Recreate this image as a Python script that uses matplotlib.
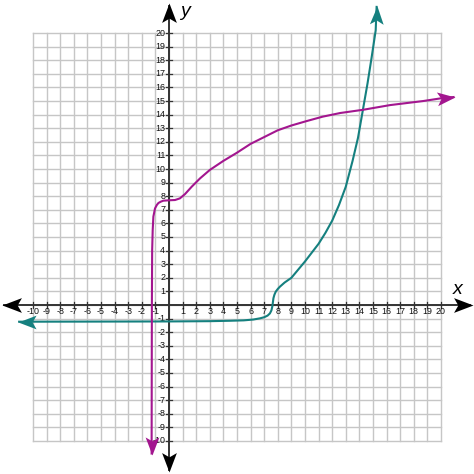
import matplotlib.pyplot as plt
import numpy as np
from matplotlib.path import Path
from matplotlib.markers import MarkerStyle
from matplotlib.transforms import Affine2D

plt.rcParams['font.family'] = ['Liberation Sans', 'DejaVu Sans']

# points
teal_x = [-11.1, -5.0, 0.0, 3.0, 4.5, 5.5, 6.2, 6.7, 7.0, 7.25, 7.42, 7.53, 7.6, 7.64,
          7.68, 7.75, 7.85, 8.0, 8.16, 8.5, 9.0, 9.5, 10.0, 10.5, 11.0, 11.5, 12.0,
          12.5, 13.0, 13.5, 13.9, 14.25, 14.6, 14.9, 15.2, 15.27]
teal_y = [-1.23, -1.22, -1.21, -1.19, -1.16, -1.13, -1.07, -0.98, -0.9, -0.78, -0.62,
          -0.4, -0.1, 0.2, 0.5, 0.75, 0.98, 1.18, 1.35, 1.65, 2.0, 2.6, 3.2, 3.85,
          4.5, 5.3, 6.2, 7.35, 8.7, 10.6, 12.3, 14.3, 16.3, 18.2, 20.2, 22.0]

purple_x = [-1.28, -1.27, -1.26, -1.24, -1.2, -1.15, -1.03, -0.9, -0.78, -0.6, -0.42,
            0.0, 0.44, 0.8, 1.18, 1.67, 2.28, 3.0, 4.0, 5.0, 6.0, 7.0, 8.0, 9.0, 10.1,
            11.3, 12.6, 14.3, 16.25, 18.7, 20.0, 21.0]
purple_y = [-11.0, -5.0, 0.0, 4.0, 5.5, 6.5, 7.1, 7.35, 7.5, 7.6, 7.67, 7.7, 7.72,
            7.84, 8.16, 8.7, 9.31, 9.93, 10.6, 11.2, 11.85, 12.35, 12.85, 13.2, 13.52,
            13.85, 14.12, 14.36, 14.7, 15.0, 15.2, 15.3]

ticks = [i for i in range(-10, 21) if i != 0]

teal = '#15807f'
purple = '#a3168f'

lo, hi = -12.43, 22.43

fig = plt.figure(figsize=(4.74, 4.74), dpi=100)
ax = fig.add_axes([0, 0, 1, 1])
ax.set_xlim(lo, hi)
ax.set_ylim(lo, hi)
ax.axis('off')

# grid
for g in range(-10, 21):
    ax.plot([g, g], [-10, 20], color='#c6c6c6', lw=1.0, zorder=1)
    ax.plot([-10, 20], [g, g], color='#c6c6c6', lw=1.0, zorder=1)

# axes
ax.plot([-12.1, 22.1], [0, 0], color='#333333', lw=1.4, zorder=2)
ax.plot([0, 0], [-12.1, 22.0], color='#333333', lw=1.4, zorder=2)

for t in ticks:
    ax.plot([t, t], [-0.22, 0.22], color='#333333', lw=0.9, zorder=2)
    ax.plot([-0.24, 0.2], [t, t], color='#333333', lw=0.9, zorder=2)
    ax.text(t, -0.47, str(t), ha='center', va='center', fontsize=6.4,
            color='#111111', zorder=3)
    ax.text(-0.28, t, str(t), ha='right', va='center', fontsize=6.4,
            color='#111111', zorder=3)

ax.text(1.2, 21.55, 'y', fontsize=14, style='italic', ha='center', va='center')
ax.text(21.2, 1.15, 'x', fontsize=14, style='italic', ha='center', va='center')

# curves
ax.plot(teal_x, teal_y, color=teal, lw=1.5, zorder=4, solid_capstyle='butt')
ax.plot(purple_x, purple_y, color=purple, lw=1.5, zorder=4, solid_capstyle='butt')

# stealth arrow heads
head = Path([(0, 0), (-1, 0.38), (-0.78, 0), (-1, -0.38), (0, 0)],
            [Path.MOVETO, Path.LINETO, Path.LINETO, Path.LINETO, Path.CLOSEPOLY])


def arrow(x, y, ang, color, size):
    m = MarkerStyle(head, transform=Affine2D().rotate_deg(ang))
    ax.plot([x], [y], marker=m, markersize=size, color=color,
            markeredgewidth=0, linestyle='none', zorder=5)


arrow(-12.28, 0, 180, 'black', 28)
arrow(22.35, 0, 0, 'black', 28)
arrow(0, 22.2, 90, 'black', 28)
arrow(0, -12.28, 270, 'black', 28)

arrow(teal_x[0], teal_y[0], 180, teal, 26)
dx, dy = teal_x[-1] - teal_x[-2], teal_y[-1] - teal_y[-2]
arrow(teal_x[-1], teal_y[-1], np.degrees(np.arctan2(dy, dx)), teal, 26)
dx, dy = purple_x[-1] - purple_x[-2], purple_y[-1] - purple_y[-2]
arrow(purple_x[-1], purple_y[-1], np.degrees(np.arctan2(dy, dx)), purple, 26)
arrow(purple_x[0], purple_y[0], 270, purple, 26)

fig.savefig('out.png', dpi=100)
